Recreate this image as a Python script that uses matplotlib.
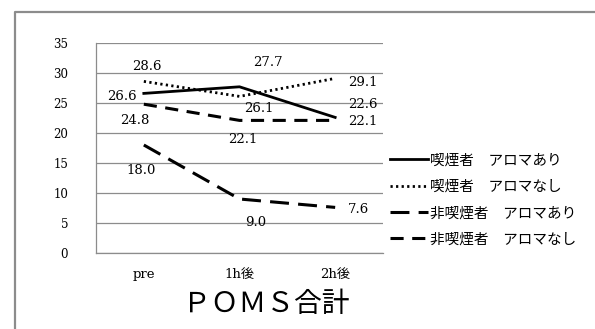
import matplotlib
matplotlib.use("Agg")
import matplotlib.pyplot as plt
from matplotlib.lines import Line2D

# POMS totals by group over time
times = ["pre", "1h後", "2h後"]
smoker_aroma = [26.6, 27.7, 22.6]
smoker_no_aroma = [28.6, 26.1, 29.1]
nonsmoker_aroma = [18.0, 9.0, 7.6]
nonsmoker_no_aroma = [24.8, 22.1, 22.1]
series_names = ["喫煙者　アロマあり", "喫煙者　アロマなし",
                "非喫煙者　アロマあり", "非喫煙者　アロマなし"]

SERIF = ["DejaVu Serif", "Noto Sans CJK JP"]
CJK = ["Noto Sans CJK JP", "DejaVu Sans"]

W, H = 595, 329
fig = plt.figure(figsize=(W / 100, H / 100), dpi=100)

# outer chart frame (runs off the right and bottom edges)
fig.add_artist(Line2D([14.5 / W, 14.5 / W, 1.0], [0.0, 1 - 11.5 / H, 1 - 11.5 / H],
                      transform=fig.transFigure, color="#8c8c8c", lw=1.6))

ax = fig.add_axes([96 / W, 1 - 253 / H, (383 - 96) / W, (253 - 43) / H])
x = list(range(len(times)))

styles = [
    dict(ls="-", lw=2.0),
    dict(ls=(0, (0.8, 1.2)), lw=2.0),
    dict(ls=(0, (6.2, 3.0)), lw=2.2),
    dict(ls=(0, (4.3, 2.8)), lw=2.2),
]
series = [smoker_aroma, smoker_no_aroma, nonsmoker_aroma, nonsmoker_no_aroma]

handles = []
for vals, st, name in zip(series, styles, series_names):
    ln, = ax.plot(x, vals, color="black", label=name, **st)
    handles.append(ln)

# value labels, offsets in pixels (dx, dy downward)
offsets = [
    [(-22, 3), (28, -24), (28, -13)],
    [(3, -15), (19, 12), (28, 4)],
    [(-3, 25), (16, 24), (23, 2)],
    [(-9, 16), (3, 19), (28, 1)],
]
for vals, offs in zip(series, offsets):
    for xi, v, (dx, dy) in zip(x, vals, offs):
        ax.annotate(f"{v:.1f}", (xi, v), xytext=(dx, -dy), textcoords="offset pixels",
                    ha="center", va="center", fontsize=9.5, family=SERIF, color="black")

ax.set_xlim(-0.5, 2.5)
ax.set_ylim(0, 35)
ax.set_yticks(range(0, 36, 5))
ax.set_xticks(x)
ax.set_xticklabels(times)
ax.grid(axis="y", color="#8c8c8c", lw=0.9)
ax.set_axisbelow(True)
for s in ["top", "right"]:
    ax.spines[s].set_visible(False)
for s in ["left", "bottom"]:
    ax.spines[s].set_color("#8c8c8c")
    ax.spines[s].set_linewidth(0.9)
ax.tick_params(length=0)
ax.tick_params(axis="y", pad=20)
ax.tick_params(axis="x", pad=11)
for lbl in ax.get_yticklabels():
    lbl.set_family(SERIF)
    lbl.set_fontsize(8.5)
for lbl in ax.get_xticklabels():
    lbl.set_family(SERIF)
    lbl.set_fontsize(9.5)

fig.text(266 / W, 1 - 304 / H, "ＰＯＭＳ合計", ha="center", va="center",
         fontsize=20, family=CJK)

leg = fig.legend(handles=handles, loc="upper left", bbox_to_anchor=(383 / W, 1 - 146 / H),
                 frameon=False, handlelength=2.6, handletextpad=0.1,
                 labelspacing=0.85, borderpad=0, prop={"family": CJK, "size": 10.5})

fig.savefig("out.png", dpi=100)
